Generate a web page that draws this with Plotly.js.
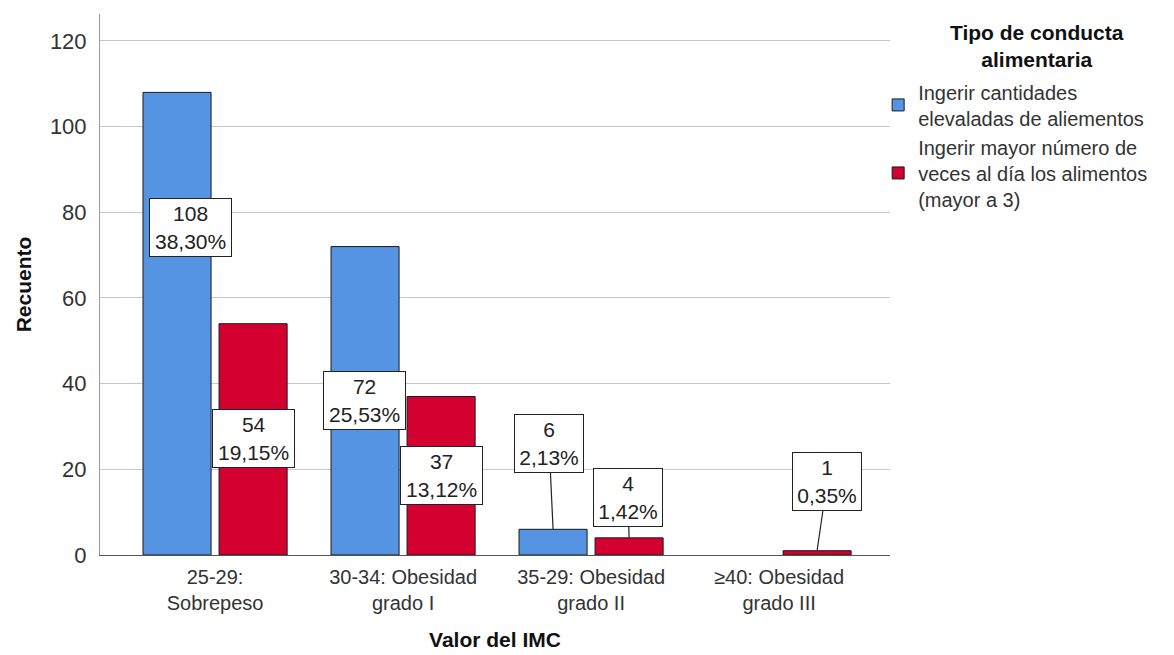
<!DOCTYPE html>
<html>
<head>
<meta charset="utf-8">
<script src="https://cdn.plot.ly/plotly-3.0.1.min.js"></script>
<style>html,body{margin:0;padding:0;background:#fff;}#chart{width:1174px;height:655px;}</style>
</head>
<body>
<div id="chart"></div>
<script>
const categories = ["25-29:<br>Sobrepeso", "30-34: Obesidad<br>grado I", "35-29: Obesidad<br>grado II", "≥40: Obesidad<br>grado III"];
const seriesNames = ["Ingerir cantidades<br>elevaladas de aliementos", "Ingerir mayor número de<br>veces al día los alimentos<br>(mayor a 3)"];
const legendTitle = "Tipo de conducta<br>alimentaria";
const cantidadesElevadas = [108, 72, 6, 0];
const mayorNumeroVeces = [54, 37, 4, 1];
const yTicks = [0, 20, 40, 60, 80, 100, 120];

const colors = ["#5594E2", "#D30030"];
const series = [cantidadesElevadas, mayorNumeroVeces];
const total = series.flat().reduce((a, b) => a + b, 0);
const fmtPct = v => (v / total * 100).toFixed(2).replace(".", ",") + "%";

const traces = series.map((vals, i) => ({
  type: "bar",
  x: categories,
  y: vals,
  name: seriesNames[i],
  marker: {color: colors[i], line: {color: "#1a1a1a", width: vals.map(v => v === 0 ? 0 : 1)}},
  hoverinfo: "skip"
}));

// label placement (pixel offsets of box centre from bar top), style only
const labelPlacement = [
  [{ax: 13, ay: 135, line: false}, {ax: -1, ay: 154, line: false}, {ax: -4, ay: -86, line: true}, null],
  [{ax: 0, ay: 115, line: false}, {ax: 0, ay: 79, line: false}, {ax: -1, ay: -40, line: true}, {ax: 10, ay: -69, line: true}]
];
const barOffset = [-38, 38];

const annotations = [];
series.forEach((vals, s) => {
  vals.forEach((v, c) => {
    const p = labelPlacement[s][c];
    if (!p || v === 0) return;
    const pct = fmtPct(v);
    const len = Math.max(String(v).length, pct.length);
    annotations.push({
      x: categories[c], y: v, xref: "x", yref: "y",
      xshift: barOffset[s],
      text: v + "<br>" + pct,
      showarrow: true, arrowhead: 0, arrowwidth: 1.2,
      arrowcolor: p.line ? "#222" : "rgba(0,0,0,0)",
      ax: p.ax, ay: p.ay, axref: "pixel", ayref: "pixel",
      font: {family: "Liberation Sans, Arial, sans-serif", size: 21, color: "#222"},
      bgcolor: "#ffffff", bordercolor: "#222", borderwidth: 1, borderpad: 1,
      width: 13.2 * len, height: 55, align: "center", valign: "middle"
    });
  });
});

// legend heading
annotations.push({
  xref: "paper", yref: "paper", x: 1.186, y: 0.94, xanchor: "center", yanchor: "middle",
  text: "<b>" + legendTitle + "</b>", showarrow: false, align: "center",
  font: {family: "Liberation Sans, Arial, sans-serif", size: 21, color: "#111"}
});

const layout = {
  width: 1174, height: 655,
  margin: {l: 100, r: 284, t: 14, b: 100, pad: 0},
  paper_bgcolor: "#fff", plot_bgcolor: "#fff",
  font: {family: "Liberation Sans, Arial, sans-serif", color: "#222"},
  barmode: "group", bargap: 0.191, bargroupgap: 0.105,
  xaxis: {
    type: "category", range: [-0.612, 3.59],
    showline: true, linecolor: "#555", linewidth: 1,
    ticks: "", ticklabelstandoff: 4,
    tickfont: {size: 20, color: "#333"},
    showgrid: false, zeroline: false,
    title: {text: "<b>Valor del IMC</b>", font: {size: 21, color: "#111"}, standoff: 19}
  },
  yaxis: {
    range: [0, 126.3], tickvals: yTicks,
    showline: true, linecolor: "#999", linewidth: 1,
    gridcolor: "#c8c8c8", gridwidth: 1, zeroline: false,
    ticks: "", ticklabelstandoff: 8,
    tickfont: {size: 22, color: "#333"},
    title: {text: "<b>Recuento</b>", font: {size: 21, color: "#111"}, standoff: 12}
  },
  legend: {
    x: 0.985, xanchor: "left", y: 0.892, yanchor: "top",
    font: {size: 20, color: "#333"},
    bgcolor: "rgba(0,0,0,0)", tracegroupgap: 0
  },
  annotations: annotations,
  showlegend: true
};

Plotly.newPlot("chart", traces, layout, {displayModeBar: false, staticPlot: true});
</script>
</body>
</html>
